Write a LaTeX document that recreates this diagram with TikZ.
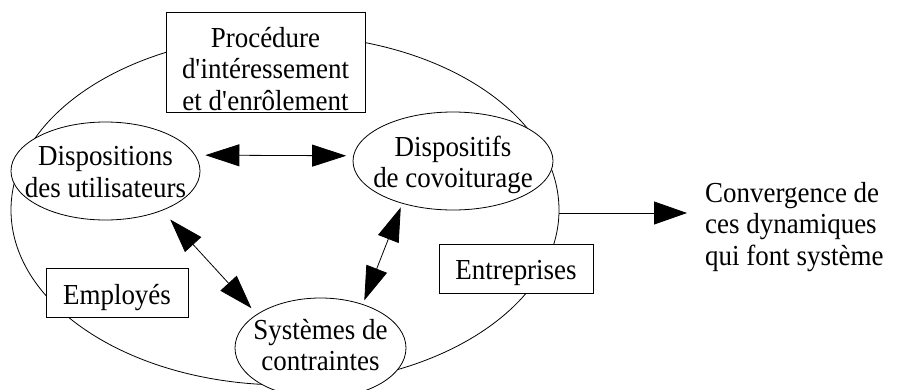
\documentclass[tikz,border=0pt]{standalone}
\usepackage{fontspec}
\setmainfont{Liberation Serif}[FakeStretch=0.93]
\usetikzlibrary{arrows.meta,shapes.geometric}
\newcommand{\apos}{\textquotesingle}
\begin{document}
\begin{tikzpicture}[x=1pt,y=-1pt,
  every node/.style={font=\fontsize{29}{31.5}\selectfont},
  lbl/.style={align=center, inner sep=0pt},
  ell/.style={ellipse, draw, fill=white, line width=0.8pt, inner sep=0pt},
  boxn/.style={rectangle, draw, fill=white, line width=0.8pt, inner sep=0pt},
  dbl/.style={{Triangle[length=34pt,width=22pt]}-{Triangle[length=34pt,width=22pt]}, line width=0.8pt},
  one/.style={-{Triangle[length=33pt,width=23pt]}, line width=0.8pt}
]
\useasboundingbox (0,0) rectangle (900,389);
% large ellipse
\node[ellipse, draw, line width=0.8pt, minimum width=548pt, minimum height=350pt, inner sep=0pt] (big) at (285,210) {};
% boxes
\node[boxn, minimum width=199pt, minimum height=100pt,
      label={[lbl,yshift=-7pt]center:{Procédure\\d\apos intéressement\\et d\apos enrôlement}}] (proc) at (265.5,62) {};
\node[boxn, minimum width=142pt, minimum height=49pt,
      label={[lbl,yshift=-5pt]center:{Employés}}] (emp) at (117,292.5) {};
\node[boxn, minimum width=154pt, minimum height=49pt,
      label={[lbl,yshift=-4.5pt]center:{Entreprises}}] (ent) at (516,268.5) {};
% ellipses
\node[ell, minimum width=189pt, minimum height=98pt,
      label={[lbl,yshift=-1pt]center:{Dispositions\\des utilisateurs}}] (du) at (105.5,171) {};
\node[ell, minimum width=200pt, minimum height=98pt,
      label={[lbl,yshift=-4pt]center:{Dispositifs\\de covoiturage}}] (dc) at (453,161) {};
\node[ell, minimum width=171pt, minimum height=100pt,
      label={[lbl,yshift=3pt]center:{Systèmes de\\contraintes}}] (ss) at (320.5,348) {};
% right text
\node[lbl, anchor=west, align=left] (conv) at (705,227) {Convergence de\\ces dynamiques\\qui font système};
\coordinate (tip) at (687,213);
% arrows
\draw[dbl] ([xshift=10pt]du.10) -- ([xshift=-7pt]dc.177);
\draw[dbl, shorten <=12pt, shorten >=8pt] (du.-35) -- (ss.152);
\draw[dbl, shorten <=4pt, shorten >=4pt] (dc.-140) -- (ss.46);
\draw[one] (big.east |- tip) -- (tip);
\end{tikzpicture}
\end{document}
